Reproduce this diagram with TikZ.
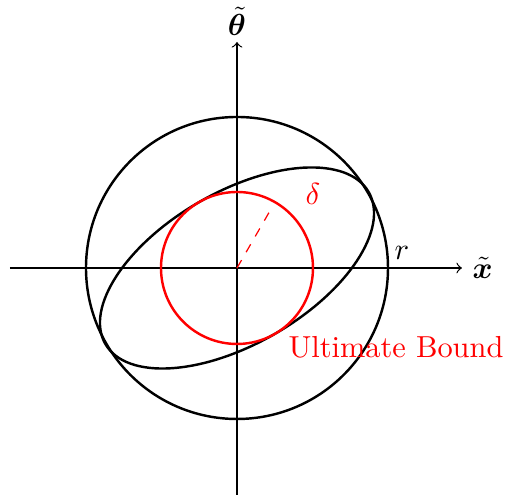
\documentclass[tikz,border=0pt]{standalone}
\usepackage{amsmath}
\usepackage{bm}
\begin{document}
\begin{tikzpicture}[x=0.329pt,y=0.329pt,
  axis/.style={->,line width=0.4pt},
  curve/.style={line width=0.8pt},
  redcurve/.style={line width=0.8pt,red},
  redlabel/.style={text=red},
]
\useasboundingbox (-237,-227) rectangle (270,268);
\coordinate (O) at (0,0);
\coordinate (xl) at (-227,0);
\coordinate (xr) at (225,0);
\coordinate (yb) at (0,-227);
\coordinate (yt) at (0,226);
\draw[axis] (xl) -- (xr);
\draw[axis] (yb) -- (yt);
\node[anchor=west] (xlab) at (xr) {$\tilde{\bm{x}}$};
\node[anchor=south,inner sep=2pt] (thlab) at (yt) {$\tilde{\bm{\theta}}$};
\draw[curve] (O) circle (151);
\draw[curve,rotate=30] (O) ellipse (152 and 76);
\draw[redcurve] (O) circle (76);
\coordinate (dend) at (60:71);
\draw[red,dashed,line width=0.4pt] (O) -- (dend);
\node (rlab) at (165,15) {$r$};
\node[redlabel] (dlab) at (76,74) {$\delta$};
\node[redlabel] (ub) at (159,-79) {Ultimate Bound};
\end{tikzpicture}
\end{document}
